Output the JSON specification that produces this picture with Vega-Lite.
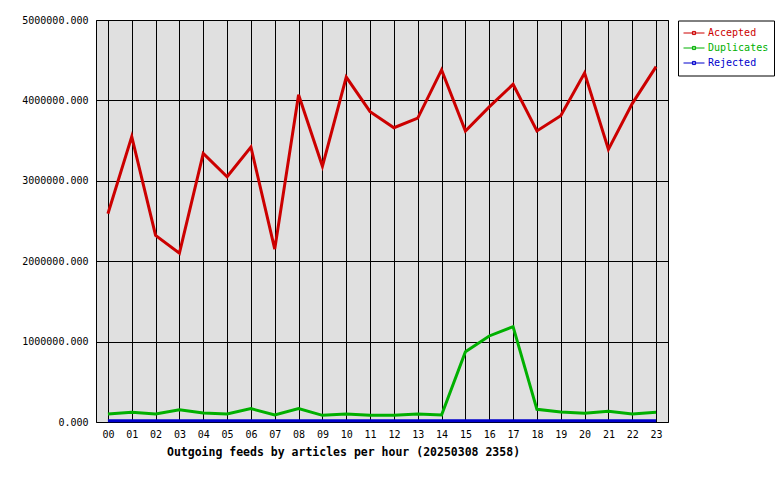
{
 "$schema": "https://vega.github.io/schema/vega-lite/v6.json",
 "width": 572,
 "height": 402,
 "autosize": {"type": "none"},
 "padding": {"left": 96, "top": 20, "right": 112, "bottom": 58},
 "background": "white",
 "config": {"view": {"fill": "#e0e0e0", "stroke": "black", "strokeWidth": 1}, "font": "DejaVu Sans Mono"},
 "data": {"values": [
  {"hour": "00", "series": "Accepted", "value": 2590000},
  {"hour": "01", "series": "Accepted", "value": 3550000},
  {"hour": "02", "series": "Accepted", "value": 2320000},
  {"hour": "03", "series": "Accepted", "value": 2100000},
  {"hour": "04", "series": "Accepted", "value": 3340000},
  {"hour": "05", "series": "Accepted", "value": 3050000},
  {"hour": "06", "series": "Accepted", "value": 3420000},
  {"hour": "07", "series": "Accepted", "value": 2150000},
  {"hour": "08", "series": "Accepted", "value": 4070000},
  {"hour": "09", "series": "Accepted", "value": 3180000},
  {"hour": "10", "series": "Accepted", "value": 4290000},
  {"hour": "11", "series": "Accepted", "value": 3860000},
  {"hour": "12", "series": "Accepted", "value": 3660000},
  {"hour": "13", "series": "Accepted", "value": 3780000},
  {"hour": "14", "series": "Accepted", "value": 4380000},
  {"hour": "15", "series": "Accepted", "value": 3620000},
  {"hour": "16", "series": "Accepted", "value": 3920000},
  {"hour": "17", "series": "Accepted", "value": 4200000},
  {"hour": "18", "series": "Accepted", "value": 3620000},
  {"hour": "19", "series": "Accepted", "value": 3810000},
  {"hour": "20", "series": "Accepted", "value": 4340000},
  {"hour": "21", "series": "Accepted", "value": 3390000},
  {"hour": "22", "series": "Accepted", "value": 3960000},
  {"hour": "23", "series": "Accepted", "value": 4420000},
  {"hour": "00", "series": "Duplicates", "value": 100000},
  {"hour": "01", "series": "Duplicates", "value": 120000},
  {"hour": "02", "series": "Duplicates", "value": 100000},
  {"hour": "03", "series": "Duplicates", "value": 153000},
  {"hour": "04", "series": "Duplicates", "value": 112000},
  {"hour": "05", "series": "Duplicates", "value": 100000},
  {"hour": "06", "series": "Duplicates", "value": 166000},
  {"hour": "07", "series": "Duplicates", "value": 87000},
  {"hour": "08", "series": "Duplicates", "value": 166000},
  {"hour": "09", "series": "Duplicates", "value": 83000},
  {"hour": "10", "series": "Duplicates", "value": 100000},
  {"hour": "11", "series": "Duplicates", "value": 83000},
  {"hour": "12", "series": "Duplicates", "value": 83000},
  {"hour": "13", "series": "Duplicates", "value": 100000},
  {"hour": "14", "series": "Duplicates", "value": 87000},
  {"hour": "15", "series": "Duplicates", "value": 875000},
  {"hour": "16", "series": "Duplicates", "value": 1070000},
  {"hour": "17", "series": "Duplicates", "value": 1186000},
  {"hour": "18", "series": "Duplicates", "value": 158000},
  {"hour": "19", "series": "Duplicates", "value": 124000},
  {"hour": "20", "series": "Duplicates", "value": 108000},
  {"hour": "21", "series": "Duplicates", "value": 133000},
  {"hour": "22", "series": "Duplicates", "value": 100000},
  {"hour": "23", "series": "Duplicates", "value": 120000},
  {"hour": "00", "series": "Rejected", "value": 15000},
  {"hour": "01", "series": "Rejected", "value": 15000},
  {"hour": "02", "series": "Rejected", "value": 15000},
  {"hour": "03", "series": "Rejected", "value": 15000},
  {"hour": "04", "series": "Rejected", "value": 15000},
  {"hour": "05", "series": "Rejected", "value": 15000},
  {"hour": "06", "series": "Rejected", "value": 15000},
  {"hour": "07", "series": "Rejected", "value": 15000},
  {"hour": "08", "series": "Rejected", "value": 15000},
  {"hour": "09", "series": "Rejected", "value": 15000},
  {"hour": "10", "series": "Rejected", "value": 15000},
  {"hour": "11", "series": "Rejected", "value": 15000},
  {"hour": "12", "series": "Rejected", "value": 15000},
  {"hour": "13", "series": "Rejected", "value": 15000},
  {"hour": "14", "series": "Rejected", "value": 15000},
  {"hour": "15", "series": "Rejected", "value": 15000},
  {"hour": "16", "series": "Rejected", "value": 15000},
  {"hour": "17", "series": "Rejected", "value": 15000},
  {"hour": "18", "series": "Rejected", "value": 15000},
  {"hour": "19", "series": "Rejected", "value": 15000},
  {"hour": "20", "series": "Rejected", "value": 15000},
  {"hour": "21", "series": "Rejected", "value": 15000},
  {"hour": "22", "series": "Rejected", "value": 15000},
  {"hour": "23", "series": "Rejected", "value": 15000}
 ]},
 "mark": {"type": "line", "strokeWidth": 3, "strokeJoin": "miter"},
 "encoding": {
  "x": {
   "field": "hour", "type": "ordinal",
   "scale": {"type": "point", "padding": 0.5},
   "axis": {
    "title": "Outgoing feeds by articles per hour (20250308 2358)",
    "titleFont": "DejaVu Sans Mono", "titleFontWeight": "bold", "titleFontSize": 11.5, "titleColor": "black",
    "titleX": 247, "titleY": 30, "titleAlign": "center", "titleBaseline": "middle", "titleAnchor": null,
    "labelAngle": 0, "labelFont": "DejaVu Sans Mono", "labelFontSize": 10, "labelColor": "black",
    "labelPadding": 7, "ticks": false, "tickSize": 0, "domain": false,
    "grid": true, "gridColor": "black", "gridOpacity": 1, "gridWidth": 1
   }
  },
  "y": {
   "field": "value", "type": "quantitative",
   "scale": {"domain": [0, 5000000], "nice": false},
   "axis": {
    "title": null, "values": [0, 1000000, 2000000, 3000000, 4000000, 5000000], "format": ".3f",
    "labelFont": "DejaVu Sans Mono", "labelFontSize": 10, "labelColor": "black",
    "labelPadding": 8, "ticks": false, "tickSize": 0, "domain": false,
    "grid": true, "gridColor": "black", "gridOpacity": 1, "gridWidth": 1
   }
  },
  "color": {
   "field": "series", "type": "nominal",
   "scale": {"domain": ["Accepted", "Duplicates", "Rejected"], "range": ["#cc0000", "#00b000", "#0000cc"]},
   "legend": {
    "title": null, "orient": "none", "legendX": 582, "legendY": 0.5,
    "symbolType": "M-1,0H1M-0.15,-0.15H0.15V0.15H-0.15Z", "symbolSize": 441, "symbolStrokeWidth": 1,
    "clipHeight": 15, "rowPadding": 0, "padding": 5,
    "labelFont": "DejaVu Sans Mono", "labelFontSize": 10, "labelOffset": 3,
    "fillColor": "white", "strokeColor": "black",
    "encode": {"labels": {"update": {"fill": {"scale": "color", "field": "value"}}}}
   }
  }
 }
}
